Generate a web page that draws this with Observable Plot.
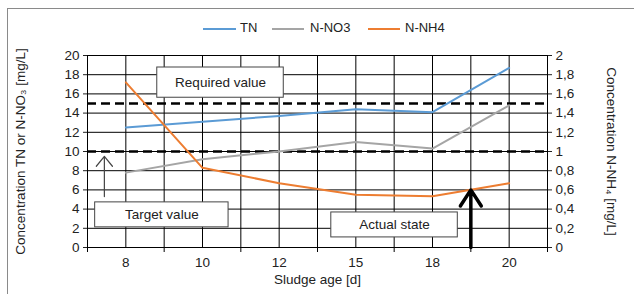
<!DOCTYPE html>
<html>
<head>
<meta charset="utf-8">
<script src="https://cdn.jsdelivr.net/npm/d3@7"></script>
<script src="https://cdn.jsdelivr.net/npm/@observablehq/plot@0.6"></script>
<style>
  html, body { margin: 0; padding: 0; background: #fff; overflow: hidden; }
  #wrap { position: relative; width: 634px; height: 294px; font-family: "Liberation Sans", Arial, sans-serif; }
  #frame { position: absolute; left: 7px; top: 8px; width: 700px; height: 400px; border: 1px solid #8a8a8a; box-sizing: border-box; }
  #legend { position: absolute; top: 19px; left: 0; width: 634px; height: 18px; }
  .item { position: absolute; top: 0; font-size: 13px; color: #222; line-height: 18px; }
  .swatch { position: absolute; top: 9px; height: 2px; }
</style>
</head>
<body>
<div id="wrap">
  <div id="frame"></div>
  <div id="chart"></div>
  <div id="legend"></div>
</div>
<script>
// ---- data ----
const categories = ["8", "10", "12", "15", "18", "20"];
const tnValues  = [12.5, 13.1, 13.7, 14.4, 14.1, 18.7];
const no3Values = [7.8, 9.2, 10.0, 11.0, 10.3, 14.8];
const nh4Values = [1.72, 0.83, 0.67, 0.55, 0.535, 0.67];   // right axis (0–2)
const leftTicks = [0, 2, 4, 6, 8, 10, 12, 14, 16, 18, 20];
const limits = [15, 10];
const seriesNames = ["TN", "N-NO3", "N-NH4"];
const seriesColors = ["#5B9BD5", "#A5A5A5", "#ED7D31"];

// annotation boxes (data units: category index, left-axis value)
const notes = [
  {text: "Required value", x1: 0.41, x2: 2.06, y1: 15.6, y2: 18.75},
  {text: "Target value",   x1: -0.40, x2: 1.34, y1: 2.1, y2: 4.7},
  {text: "Actual state",   x1: 2.68, x2: 4.33, y1: 1.05, y2: 3.65}
];
const thinArrow = [{x: -0.28, y1: 5.3, y2: 9.5}];
const thickArrow = [{x: 4.5, y1: 0, y2: 6.0}];

// ---- build rows ----
const rows = [];
categories.forEach((c, i) => {
  rows.push({i, series: "TN", v: tnValues[i]});
  rows.push({i, series: "N-NO3", v: no3Values[i]});
  rows.push({i, series: "N-NH4", v: nh4Values[i] * 10});
});

const idx = d3.range(categories.length);
const halfGrid = d3.range(-0.5, categories.length - 0.5 + 0.01, 0.5);
const boundaries = d3.range(-0.5, categories.length - 0.5 + 0.01, 1);

const chart = Plot.plot({
  width: 634,
  height: 294,
  marginLeft: 87,
  marginRight: 87,
  marginTop: 55,
  marginBottom: 47,
  style: {fontFamily: "Liberation Sans, Arial, sans-serif", fontSize: "13px", color: "#222", background: "transparent", overflow: "visible"},
  x: {type: "linear", domain: [-0.5, categories.length - 0.5]},
  y: {domain: [0, 20]},
  color: {domain: seriesNames, range: seriesColors},
  marks: [
    Plot.ruleY(leftTicks, {stroke: "#000", strokeWidth: 1}),
    Plot.ruleX(halfGrid, {stroke: "#000", strokeWidth: 1}),
    Plot.ruleY(limits, {stroke: "#000", strokeWidth: 2.6, strokeDasharray: "9,5"}),
    Plot.line(rows, {x: "i", y: "v", z: "series", stroke: "series", strokeWidth: 2}),
    Plot.rect(notes, {x1: "x1", x2: "x2", y1: "y1", y2: "y2", fill: "#fff", stroke: "#444", strokeWidth: 1}),
    Plot.text(notes, {x: d => (d.x1 + d.x2) / 2, y: d => (d.y1 + d.y2) / 2, text: "text", fontSize: 13.5, fill: "#222"}),
    Plot.arrow(thinArrow, {x1: "x", x2: "x", y1: "y1", y2: "y2", strokeWidth: 1.2, stroke: "#444", headLength: 16, headAngle: 78}),
    Plot.arrow(thickArrow, {x1: "x", x2: "x", y1: "y1", y2: "y2", strokeWidth: 3.5, stroke: "#000", headLength: 11, headAngle: 66}),
    Plot.axisX(boundaries, {tickSize: 5, tickFormat: () => "", stroke: "#000"}),
    Plot.axisX(idx, {tickSize: 0, tickPadding: 10, tickFormat: i => categories[i], label: null, fontSize: 13.5}),
    Plot.axisY(leftTicks, {anchor: "left", tickSize: 4, tickPadding: 4, label: null, fontSize: 13.5}),
    Plot.axisY(leftTicks, {anchor: "right", tickSize: 4, tickPadding: 4, label: null, fontSize: 13.5,
      tickFormat: d => String(d / 10).replace(".", ",")}),
    Plot.text(["Concentration TN or N-NO\u2083 [mg/L]"], {frameAnchor: "left", textAnchor: "middle", rotate: -90, dx: -67, fontSize: 13.5}),
    Plot.text(["Concentration N-NH\u2084 [mg/L]"], {frameAnchor: "right", textAnchor: "middle", rotate: 90, dx: 64, fontSize: 13.5}),
    Plot.text(["Sludge age [d]"], {frameAnchor: "bottom", dy: 36, fontSize: 13.5})
  ]
});
document.getElementById("chart").appendChild(chart);

// ---- legend ----
const legend = document.getElementById("legend");
const legendLayout = [[203, 33, 240], [272, 32, 310], [368, 32, 405]];
seriesNames.forEach((name, k) => {
  const [lx, lw, tx] = legendLayout[k];
  const sw = document.createElement("div");
  sw.className = "swatch";
  sw.style.left = lx + "px"; sw.style.width = lw + "px"; sw.style.background = seriesColors[k];
  legend.appendChild(sw);
  const t = document.createElement("div");
  t.className = "item";
  t.style.left = tx + "px";
  t.textContent = name;
  legend.appendChild(t);
});
</script>
</body>
</html>
